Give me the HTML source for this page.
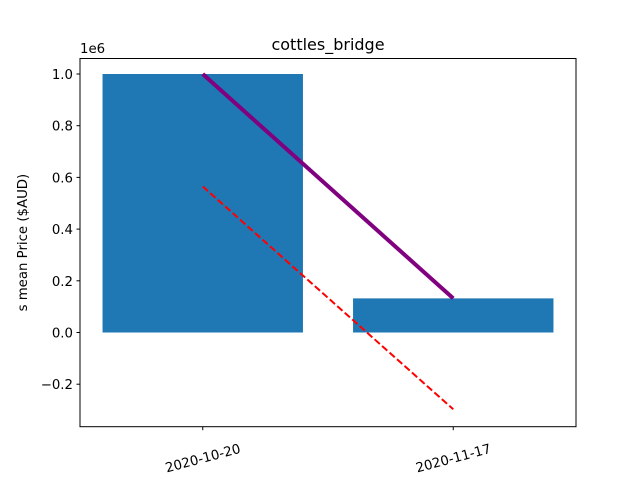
<!DOCTYPE html>
<html><head><meta charset="utf-8"><style>
body{margin:0;background:#fff;}
svg{display:block;font-family:"DejaVu Sans","Liberation Sans",sans-serif;}
</style></head><body>
<svg id="chart" width="640" height="480"></svg>
<script>
const categories = ["2020-10-20", "2020-11-17"];
const barValues = [1.0, 0.132];
const meanLine = [1.0, 0.132];
const trendLine = [0.565, -0.297];
const yTicks = [-0.2, 0.0, 0.2, 0.4, 0.6, 0.8, 1.0];
const yTickLabels = ["\u22120.2", "0.0", "0.2", "0.4", "0.6", "0.8", "1.0"];

const L = 80, R = 576, T = 58.5, B = 426.7;
const xDom = [-0.49, 1.49];
const x = v => L + (v - xDom[0]) / (xDom[1] - xDom[0]) * (R - L);
const y0 = 332.5, y1 = 74;
const y = v => y0 + v * (y1 - y0);
const NS = "http://www.w3.org/2000/svg";
const svg = document.getElementById("chart");
function mk(tag, attrs, parent) {
  const e = document.createElementNS(NS, tag);
  for (const k in attrs) e.setAttribute(k, attrs[k]);
  (parent || svg).appendChild(e);
  return e;
}
const bw = 0.8;
categories.forEach((c, i) => {
  const r = mk("rect", {x: x(i - bw / 2), y: Math.min(y(barValues[i]), y(0)), width: x(i + bw / 2) - x(i - bw / 2), height: Math.abs(y(0) - y(barValues[i])), fill: "#1f77b4"});
  
  
});
const p1 = mk("polyline", {points: meanLine.map((v, i) => x(i) + "," + y(v)).join(" "), fill: "none", stroke: "#800080", "stroke-width": 4});


const p2 = mk("polyline", {points: trendLine.map((v, i) => x(i) + "," + y(v)).join(" "), fill: "none", stroke: "#ff0000", "stroke-width": 2, "stroke-dasharray": "7,3"});


const frame = mk("rect", {x: L, y: T, width: R - L, height: B - T, fill: "none", stroke: "#000", "stroke-width": 1});


yTicks.forEach((t, i) => {
  const ty = y(t);
  const tk = mk("line", {x1: L - 3.5, x2: L, y1: ty, y2: ty, stroke: "#000"});
  
  
  const tx = mk("text", {x: L - 7, y: ty + 5, "text-anchor": "end", "font-size": 13.3, fill: "#000"});
  tx.textContent = yTickLabels[i];
  
  
});
categories.forEach((c, i) => {
  const tx0 = x(i);
  const tk = mk("line", {x1: tx0, x2: tx0, y1: B, y2: B + 3.5, stroke: "#000"});
  
  
  const tl = mk("text", {x: tx0, y: B + 36, "text-anchor": "middle", "font-size": 13.3, fill: "#000", transform: "rotate(-15 " + tx0 + " " + (B + 31) + ")"});
  tl.textContent = c;
  
  
});
const title = mk("text", {x: (L + R) / 2, y: 50, "text-anchor": "middle", "font-size": 16, fill: "#000"});
title.textContent = "cottles_bridge";


const off = mk("text", {x: 80, y: 53, "font-size": 13.3, fill: "#000"});
off.textContent = "1e6";


const yl = mk("text", {x: 27, y: (T + B) / 2, "text-anchor": "middle", "font-size": 13.3, fill: "#000", transform: "rotate(-90 27 " + ((T + B) / 2) + ")"});
yl.textContent = "s mean Price ($AUD)";


</script>
</body></html>
